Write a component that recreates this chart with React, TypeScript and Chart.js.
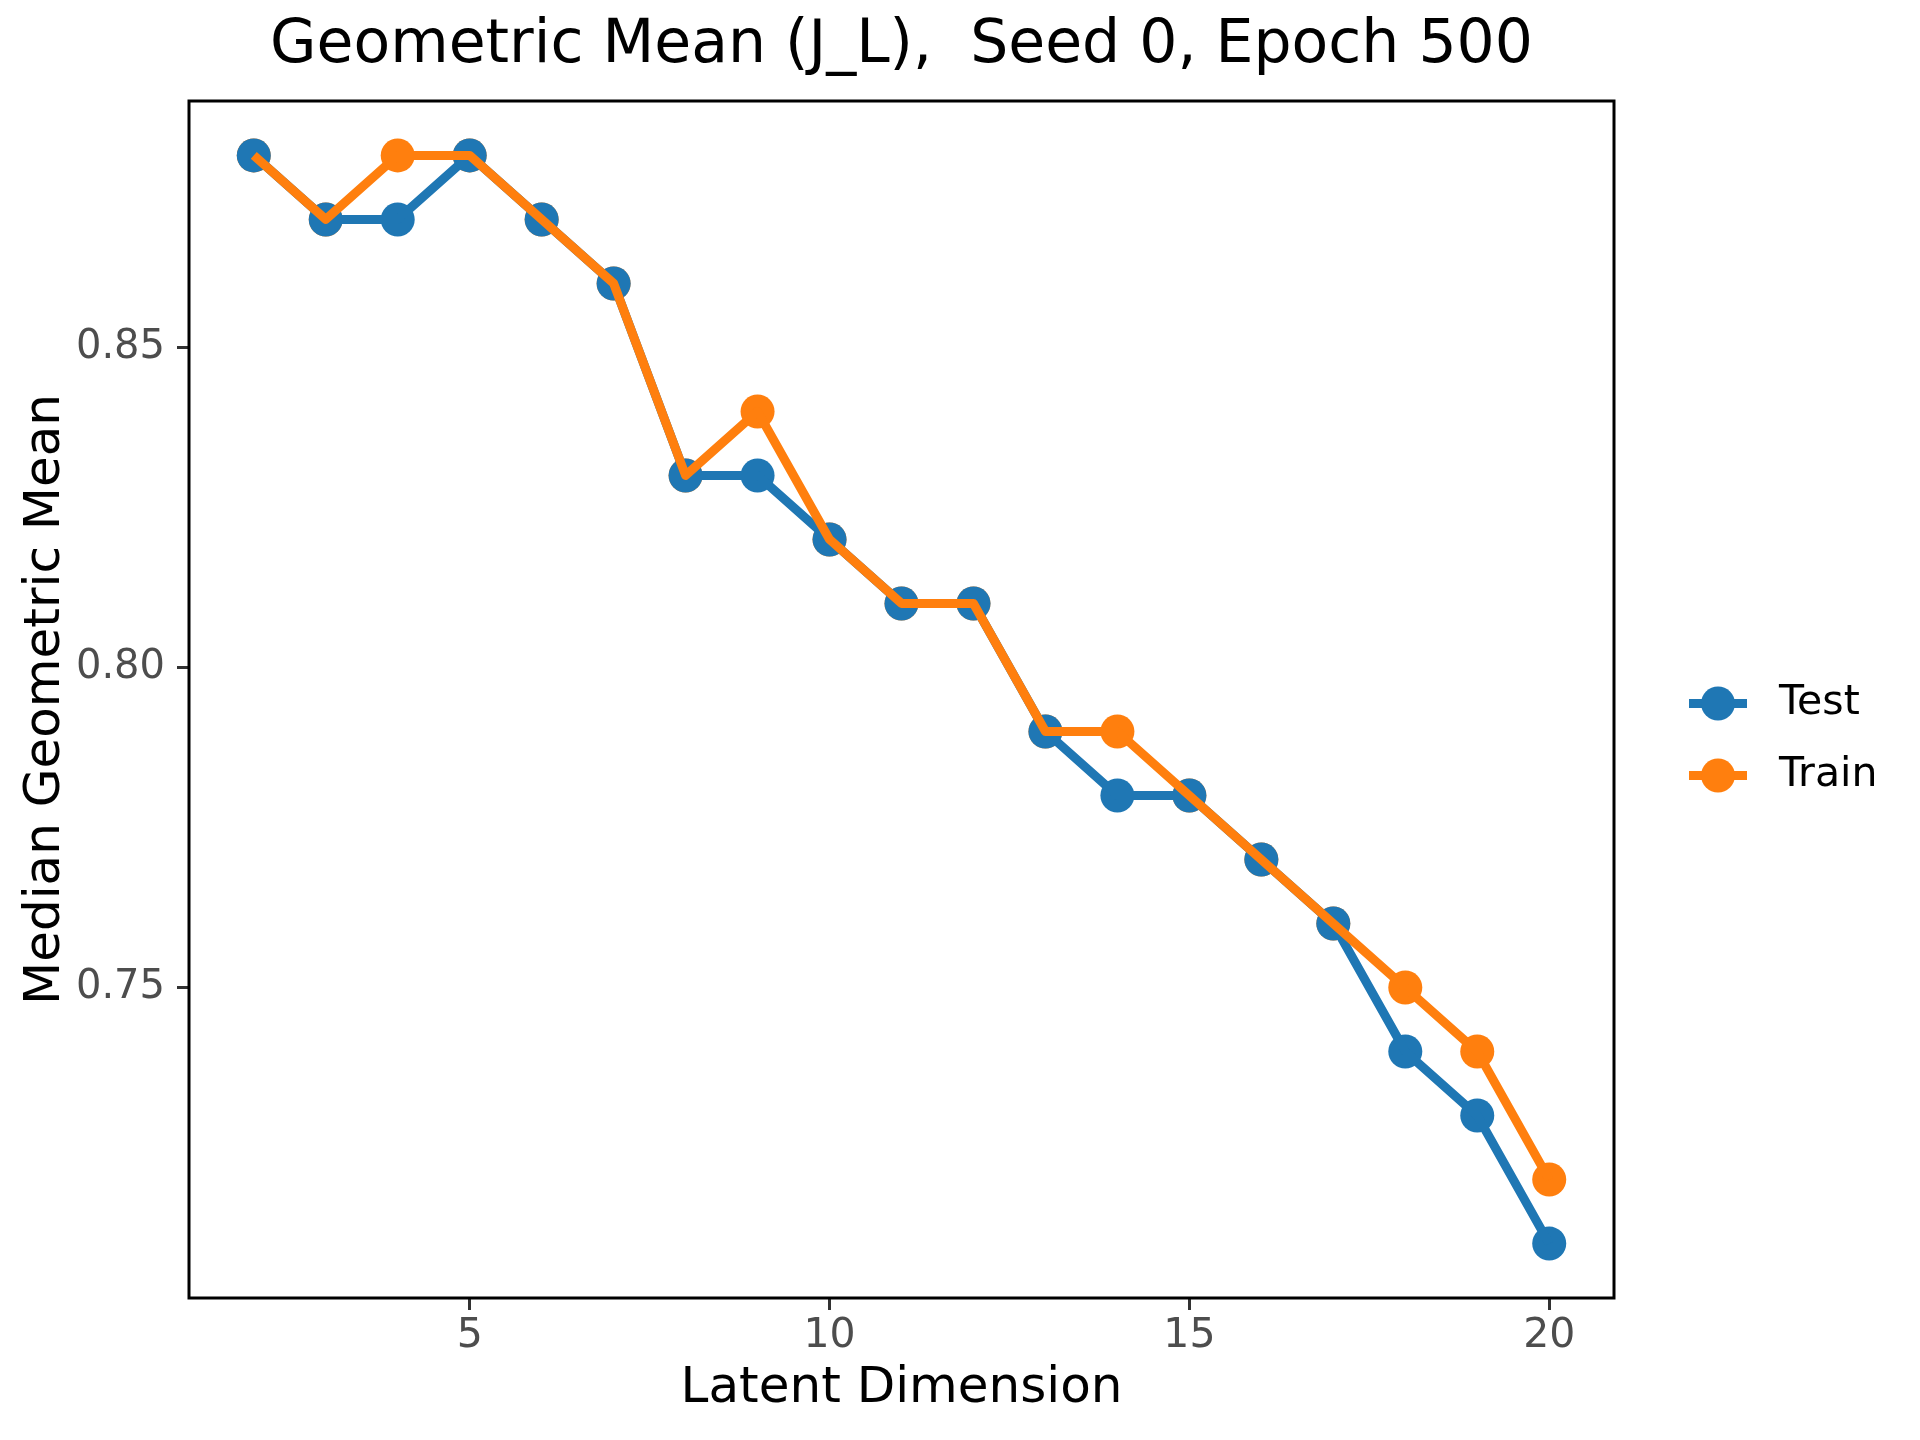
import { useEffect, useRef } from "react"
import { Chart, registerables, type Plugin } from "chart.js"

Chart.register(...registerables)

// values
const latentDims = [2, 3, 4, 5, 6, 7, 8, 9, 10, 11, 12, 13, 14, 15, 16, 17, 18, 19, 20]
const testValues = [0.88, 0.87, 0.87, 0.88, 0.87, 0.86, 0.83, 0.83, 0.82, 0.81, 0.81, 0.79, 0.78, 0.78, 0.77, 0.76, 0.74, 0.73, 0.71]
const trainValues = [0.88, 0.87, 0.88, 0.88, 0.87, 0.86, 0.83, 0.84, 0.82, 0.81, 0.81, 0.79, 0.79, 0.78, 0.77, 0.76, 0.75, 0.74, 0.72]
const xTicks = [5, 10, 15, 20]
const yTicks = [0.75, 0.8, 0.85]
const seriesLabels = ["Test", "Train"]
const seriesColors = ["#1f77b4", "#ff7f0e"]

const FONT = "'DejaVu Sans', 'Liberation Sans', sans-serif"
const LINE_WIDTH = 9
const MARKER_RADIUS = 17

const toPoints = (values: number[]) => latentDims.map((x, i) => ({ x, y: values[i] }))

// black box round the whole plot area
const framePlugin: Plugin = {
  id: "frame",
  afterDraw(chart) {
    const { ctx, chartArea } = chart
    ctx.save()
    ctx.strokeStyle = "#000"
    ctx.lineWidth = 3
    ctx.strokeRect(chartArea.left, chartArea.top, chartArea.right - chartArea.left, chartArea.bottom - chartArea.top)
    ctx.restore()
  },
}

// legend with line + marker swatches, like matplotlib
const legendPlugin: Plugin = {
  id: "sideLegend",
  afterDraw(chart) {
    const { ctx, chartArea } = chart
    const midY = (chartArea.top + chartArea.bottom) / 2
    ctx.save()
    seriesLabels.forEach((label, i) => {
      const y = midY + 4 + i * 72
      const x0 = chartArea.right + 75
      ctx.strokeStyle = seriesColors[i]
      ctx.lineWidth = LINE_WIDTH
      ctx.beginPath()
      ctx.moveTo(x0, y)
      ctx.lineTo(x0 + 58, y)
      ctx.stroke()
      ctx.fillStyle = seriesColors[i]
      ctx.beginPath()
      ctx.arc(x0 + 29, y, MARKER_RADIUS, 0, Math.PI * 2)
      ctx.fill()
      ctx.fillStyle = "#000"
      ctx.font = `41px ${FONT}`
      ctx.textBaseline = "middle"
      ctx.textAlign = "left"
      ctx.fillText(label, x0 + 90, y)
    })
    ctx.restore()
  },
}

export default function App() {
  const chartRef = useRef<HTMLCanvasElement>(null)
  const chartInstance = useRef<Chart | null>(null)

  useEffect(() => {
    if (!chartRef.current) return
    if (chartInstance.current) chartInstance.current.destroy()
    const ctx = chartRef.current.getContext("2d")
    if (!ctx) return

    chartInstance.current = new Chart(ctx, {
      type: "line",
      data: {
        datasets: [
          // lower order is drawn on top: lines over markers, train line topmost
          {
            label: "Train line",
            data: toPoints(trainValues),
            borderColor: seriesColors[1],
            borderWidth: LINE_WIDTH,
            pointRadius: 0,
            borderJoinStyle: "round",
            order: 0,
          },
          {
            label: "Test line",
            data: toPoints(testValues),
            borderColor: seriesColors[0],
            borderWidth: LINE_WIDTH,
            pointRadius: 0,
            borderJoinStyle: "round",
            order: 1,
          },
          {
            label: seriesLabels[0],
            data: toPoints(testValues),
            showLine: false,
            pointRadius: MARKER_RADIUS,
            pointBorderWidth: 0,
            pointBackgroundColor: seriesColors[0],
            order: 2,
          },
          {
            label: seriesLabels[1],
            data: toPoints(trainValues),
            showLine: false,
            pointRadius: MARKER_RADIUS,
            pointBorderWidth: 0,
            pointBackgroundColor: seriesColors[1],
            order: 3,
          },
        ],
      },
      options: {
        animation: false,
        responsive: false,
        devicePixelRatio: 1,
        layout: { padding: { left: 0, top: 0, right: 306, bottom: 0 } },
        plugins: {
          legend: { display: false },
          tooltip: { enabled: false },
          title: {
            display: true,
            text: "Geometric Mean (J_L),  Seed 0, Epoch 500",
            color: "#000",
            fullSize: false,
            font: { family: FONT, size: 60, weight: "normal" },
            padding: { top: 10, bottom: 19 },
          },
        },
        scales: {
          x: {
            type: "linear",
            min: 1.1,
            max: 20.9,
            afterBuildTicks: (scale) => {
              scale.ticks = xTicks.map((value) => ({ value }))
            },
            afterFit: (scale) => {
              scale.height = 142
            },
            border: { display: false },
            grid: { drawOnChartArea: false, drawTicks: true, tickLength: 12, tickWidth: 3, tickColor: "#333" },
            ticks: { color: "#4d4d4d", padding: 2, font: { family: FONT, size: 41 } },
            title: {
              display: true,
              text: "Latent Dimension",
              color: "#000",
              font: { family: FONT, size: 50 },
              padding: { top: 0, bottom: 21 },
            },
          },
          y: {
            type: "linear",
            min: 0.7015,
            max: 0.8885,
            afterBuildTicks: (scale) => {
              scale.ticks = yTicks.map((value) => ({ value }))
            },
            afterFit: (scale) => {
              scale.width = 189
            },
            border: { display: false },
            grid: { drawOnChartArea: false, drawTicks: true, tickLength: 12, tickWidth: 3, tickColor: "#333" },
            ticks: {
              color: "#4d4d4d",
              padding: 12,
              font: { family: FONT, size: 40 },
              callback: (value) => Number(value).toFixed(2),
            },
            title: {
              display: true,
              text: "Median Geometric Mean",
              color: "#000",
              font: { family: FONT, size: 50 },
              padding: { top: 16, bottom: 0 },
            },
          },
        },
      },
      plugins: [framePlugin, legendPlugin],
    })

    return () => {
      if (chartInstance.current) {
        chartInstance.current.destroy()
        chartInstance.current = null
      }
    }
  }, [])

  return (
    <div style={{ position: "absolute", left: 0, top: 0, width: 1920, height: 1440, background: "#fff" }}>
      <canvas ref={chartRef} width={1920} height={1440} style={{ width: 1920, height: 1440 }} />
    </div>
  )
}
